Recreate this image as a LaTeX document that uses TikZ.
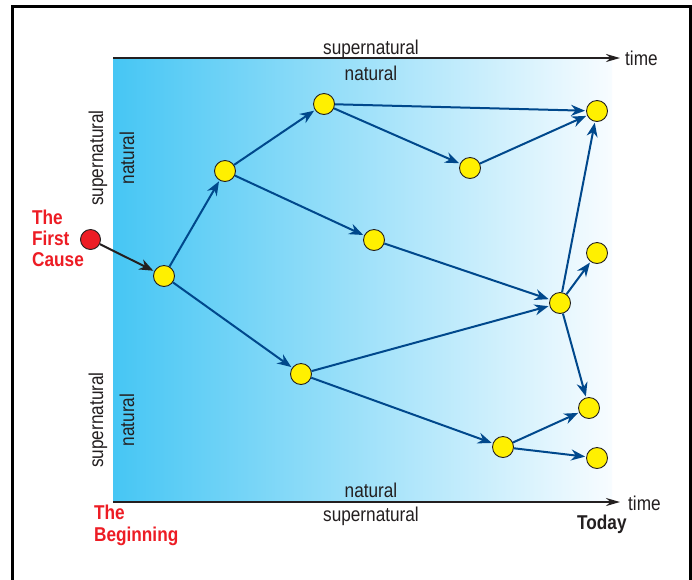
\documentclass[tikz,border=0pt]{standalone}
\usepackage{fontspec}
\setmainfont{Liberation Sans}[FakeStretch=0.86]
\usetikzlibrary{arrows.meta}
\definecolor{arrowblue}{RGB}{0,72,140}
\definecolor{txtgray}{RGB}{35,31,32}
\definecolor{causered}{RGB}{237,28,36}
\definecolor{dotyellow}{RGB}{255,240,0}
\definecolor{gradleft}{RGB}{70,198,244}
\definecolor{gradright}{RGB}{248,252,255}
\tikzset{
  dot/.style={circle, draw=txtgray, line width=0.9pt, fill=dotyellow, minimum size=21pt, inner sep=0pt},
  reddot/.style={circle, draw=txtgray, line width=0.9pt, fill=causered, minimum size=20pt, inner sep=0pt},
  flow/.style={draw=arrowblue, line width=2pt, -{Stealth[length=14pt,width=11pt]}, shorten >=1pt},
  startflow/.style={draw=txtgray, line width=2pt, -{Stealth[length=14pt,width=11pt]}, shorten >=1pt},
  axis/.style={draw=txtgray, line width=2pt, -{Stealth[length=14pt,width=8pt]}},
  lbl/.style={text=txtgray, font=\fontsize{20}{22}\selectfont, inner sep=0pt},
  redlbl/.style={text=causered, font=\bfseries\fontsize{20}{21.3}\selectfont, inner sep=0pt, align=left},
}
\begin{document}
\begin{tikzpicture}[x=1pt,y=-1pt]
\useasboundingbox (0,0) rectangle (692,579);
\fill[white] (0,0) rectangle (692,579);
% frame
\draw[black, line width=3pt] (12,620) -- (12,6) -- (690,6) -- (690,620);
% gradient region
\shade[left color=gradleft, right color=gradright] (113,59) rectangle (612,502);
% axes
\coordinate (tl) at (113,58);
\coordinate (tr) at (620,58);
\coordinate (bl) at (113,502);
\coordinate (br) at (620,502);
\draw[axis] (tl) -- (tr);
\draw[axis] (bl) -- (br);
\node[lbl, anchor=base west] (time1) at (625,65) {time};
\node[lbl, anchor=base west] (time2) at (628,510) {time};
\node[lbl, anchor=base] (sn1) at (371,54) {supernatural};
\node[lbl, anchor=base] (n1) at (371,80) {natural};
\node[lbl, anchor=base] (n2) at (371,497) {natural};
\node[lbl, anchor=base] (sn2) at (371,521) {supernatural};
\node[lbl, rotate=90] (sn3) at (98,158) {supernatural};
\node[lbl, rotate=90] (n3) at (127,158) {natural};
\node[lbl, rotate=90] (sn4) at (98,420) {supernatural};
\node[lbl, rotate=90] (n4) at (127,420) {natural};
\node[lbl, font=\bfseries\fontsize{20}{22}\selectfont, anchor=base west] (today) at (577,529) {Today};
\node[redlbl, anchor=base west] (cause) at (32,266.7) {The\\First\\Cause};
\node[redlbl, anchor=base west] (begin) at (94,541) {The\\Beginning};
% nodes
\node[reddot] (R) at (90.5,239.5) {};
\node[dot] (A) at (164,276) {};
\node[dot] (B) at (225,171) {};
\node[dot] (C) at (324,104) {};
\node[dot] (D) at (470,168) {};
\node[dot] (E) at (597,111) {};
\node[dot] (F) at (374,240) {};
\node[dot] (G) at (560,303) {};
\node[dot] (H) at (597,253) {};
\node[dot] (I) at (301,374) {};
\node[dot] (J) at (589,408) {};
\node[dot] (K) at (503,447) {};
\node[dot] (L) at (597,458) {};
% connectors
\draw[startflow] (R) -- (A);
\draw[flow] (A) -- (B);
\draw[flow] (B) -- (C);
\draw[flow] (C) -- (E);
\draw[flow] (C) -- (D);
\draw[flow] (D) -- (E);
\draw[flow] (B) -- (F);
\draw[flow] (F) -- (G);
\draw[flow] (A) -- (I);
\draw[flow] (I) -- (G);
\draw[flow] (G) -- (E);
\draw[flow] (G) -- (H);
\draw[flow] (G) -- (J);
\draw[flow] (I) -- (K);
\draw[flow] (K) -- (J);
\draw[flow] (K) -- (L);
\end{tikzpicture}
\end{document}
